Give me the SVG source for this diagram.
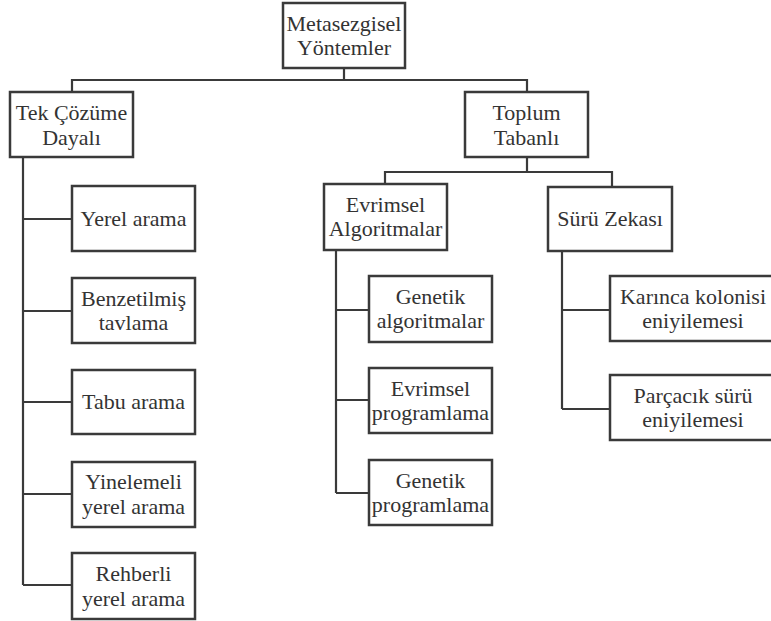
<svg xmlns="http://www.w3.org/2000/svg" width="771" height="621" viewBox="0 0 771 621">
<style>
rect{fill:#fff;stroke:#3a3a3a;stroke-width:2.5}
text{font-family:'Liberation Serif','Times New Roman',Times,'DejaVu Serif',serif;font-size:22px;fill:#333;text-anchor:middle}
.c{fill:none;stroke:#3a3a3a;stroke-width:2.2}
</style>
<rect x="0" y="0" width="771" height="621" style="stroke:none"/>
<g id="connectors">
<path class="c" d="M344 68V80M72 92V80H527V92"/>
<path class="c" d="M23 157V585M23 219H72M23 311H72M23 402H72M23 494H72M23 585H72"/>
<path class="c" d="M527 157V172M385 184V172H612V187"/>
<path class="c" d="M336 250V493M336 310H369M336 400H369M336 493H369"/>
<path class="c" d="M562 251V409M562 310H610M562 409H610"/>
</g>
<g id="root"><rect x="283" y="3" width="122" height="65"/><text x="344" y="31">Metasezgisel</text><text x="344" y="55">Yöntemler</text></g>
<g id="tek"><rect x="10" y="92" width="123" height="65"/><text x="71.5" y="120">Tek Çözüme</text><text x="71.5" y="145">Dayalı</text></g>
<g id="toplum"><rect x="465" y="92" width="123" height="65"/><text x="526.5" y="120">Toplum</text><text x="526.5" y="145">Tabanlı</text></g>
<g id="yerel"><rect x="72" y="186" width="123" height="65"/><text x="133.5" y="226">Yerel arama</text></g>
<g id="benzetilmis"><rect x="72" y="278" width="123" height="65"/><text x="133.5" y="306">Benzetilmiş</text><text x="133.5" y="330">tavlama</text></g>
<g id="tabu"><rect x="72" y="370" width="123" height="64"/><text x="133.5" y="409">Tabu arama</text></g>
<g id="yinelemeli"><rect x="72" y="462" width="123" height="65"/><text x="133.5" y="489">Yinelemeli</text><text x="133.5" y="514">yerel arama</text></g>
<g id="rehberli"><rect x="72" y="553" width="123" height="66"/><text x="133.5" y="581">Rehberli</text><text x="133.5" y="606">yerel arama</text></g>
<g id="evrimsel-alg"><rect x="324" y="184" width="123" height="66"/><text x="385.5" y="212">Evrimsel</text><text x="385.5" y="236">Algoritmalar</text></g>
<g id="suru"><rect x="548" y="187" width="124" height="64"/><text x="610" y="226">Sürü Zekası</text></g>
<g id="genetik-alg"><rect x="369" y="276" width="123" height="66"/><text x="430.5" y="304">Genetik</text><text x="430.5" y="328">algoritmalar</text></g>
<g id="evrimsel-prog"><rect x="369" y="368" width="123" height="65"/><text x="430.5" y="396">Evrimsel</text><text x="430.5" y="420">programlama</text></g>
<g id="genetik-prog"><rect x="369" y="460" width="123" height="65"/><text x="430.5" y="488">Genetik</text><text x="430.5" y="512">programlama</text></g>
<g id="karinca"><rect x="610" y="276" width="165" height="65"/><text x="693" y="304">Karınca kolonisi</text><text x="693" y="328">eniyilemesi</text></g>
<g id="parcacik"><rect x="610" y="375" width="165" height="65"/><text x="693" y="403">Parçacık sürü</text><text x="693" y="427">eniyilemesi</text></g>
</svg>
